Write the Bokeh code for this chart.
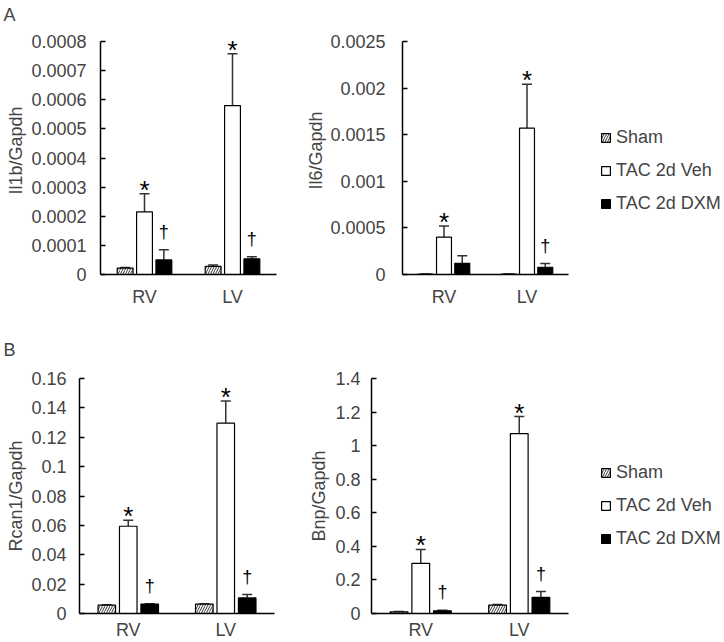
from bokeh.plotting import figure
from bokeh.layouts import column, row
from bokeh.models import (ColumnDataSource, Range1d, FixedTicker, Whisker, TeeHead,
                          LabelSet, Legend, LegendItem)
from bokeh.core.properties import value
from bokeh.embed import file_html
from bokeh.resources import INLINE

FONT = "Liberation Sans"

groups = ["RV", "LV"]
series_names = ["Sham", "TAC 2d Veh", "TAC 2d DXM"]

# Il1b/Gapdh
il1b_sham = [0.000022, 0.000028]
il1b_sham_err = [0.000002, 0.000005]
il1b_veh = [0.000215, 0.00058]
il1b_veh_err = [0.000062, 0.000178]
il1b_dxm = [0.00005, 0.000054]
il1b_dxm_err = [0.000035, 0.000007]
il1b_veh_sig = ["*", "*"]
il1b_dxm_sig = ["†", "†"]
il1b_ticks = ["0", "0.0001", "0.0002", "0.0003", "0.0004", "0.0005", "0.0006", "0.0007", "0.0008"]

# Il6/Gapdh
il6_sham = [0.000005, 0.000004]
il6_sham_err = [0.000001, 0.000001]
il6_veh = [0.0004, 0.00157]
il6_veh_err = [0.00012, 0.00047]
il6_dxm = [0.00012, 0.000078]
il6_dxm_err = [0.00008, 0.00004]
il6_veh_sig = ["*", "*"]
il6_dxm_sig = ["", "†"]
il6_ticks = ["0", "0.0005", "0.001", "0.0015", "0.002", "0.0025"]

# Rcan1/Gapdh
rcan1_sham = [0.0057, 0.0064]
rcan1_sham_err = [0.0003, 0.0003]
rcan1_veh = [0.0594, 0.1296]
rcan1_veh_err = [0.0041, 0.0151]
rcan1_dxm = [0.0064, 0.0106]
rcan1_dxm_err = [0.0003, 0.0023]
rcan1_veh_sig = ["*", "*"]
rcan1_dxm_sig = ["†", "†"]
rcan1_ticks = ["0", "0.02", "0.04", "0.06", "0.08", "0.1", "0.12", "0.14", "0.16"]

# Bnp/Gapdh
bnp_sham = [0.01, 0.05]
bnp_sham_err = [0.002, 0.003]
bnp_veh = [0.299, 1.072]
bnp_veh_err = [0.083, 0.101]
bnp_dxm = [0.016, 0.096]
bnp_dxm_err = [0.004, 0.035]
bnp_veh_sig = ["*", "*"]
bnp_dxm_sig = ["†", "†"]
bnp_ticks = ["0", "0.2", "0.4", "0.6", "0.8", "1", "1.2", "1.4"]

BAR_W = 0.18
OFFSETS = [-0.22, 0.0, 0.22]
STYLES = [
    dict(fill_color="white", hatch_pattern="/", hatch_color="black", hatch_scale=5, hatch_weight=0.8),
    dict(fill_color="white"),
    dict(fill_color="black"),
]
SIG_STYLE = {"*": dict(size="26px", yoff=-5), "†": dict(size="18px", yoff=12)}
ROW1_HEADROOM = 248 / 233


def make_panel(width, height, borders, ticks, ylabel, series, sigs, tick_standoff, label_standoff,
               x_standoff, y_headroom=1.0):
    left, right, top, bottom = borders
    tick_vals = [float(t) for t in ticks]
    centers = [i + 0.5 for i in range(len(groups))]
    p = figure(width=width, height=height, x_range=Range1d(0, len(groups)),
               y_range=Range1d(tick_vals[0], tick_vals[-1] * y_headroom),
               output_backend="svg", toolbar_location=None,
               min_border_left=left, min_border_right=right,
               min_border_top=top, min_border_bottom=bottom)
    p.outline_line_color = None
    p.grid.visible = False
    p.background_fill_color = "white"

    sources = []
    for k, ((means, errs), style) in enumerate(zip(series, STYLES)):
        xs = [c + OFFSETS[k] for c in centers]
        caps = [m + e for m, e in zip(means, errs)]
        src = ColumnDataSource(dict(x=xs, top=means, cap=caps))
        sources.append(src)
        p.vbar(x="x", top="top", bottom=0, width=BAR_W, source=src,
               line_color="black", line_width=1.2, **style)
        p.add_layout(Whisker(source=src, base="x", lower="top", upper="cap",
                             dimension="height", line_color="#333333", line_width=1.5,
                             lower_head=None,
                             upper_head=TeeHead(size=10, line_color="#333333", line_width=1.5)))
        if k > 0:
            marks = sigs[k - 1]
            for sym, st in SIG_STYLE.items():
                sel = [i for i, s in enumerate(marks) if s == sym]
                if not sel:
                    continue
                lsrc = ColumnDataSource(dict(x=[xs[i] for i in sel], y=[caps[i] for i in sel],
                                             t=[sym for _ in sel]))
                p.add_layout(LabelSet(x="x", y="y", text="t", source=lsrc,
                                      text_align="center", text_baseline="alphabetic",
                                      y_offset=st["yoff"], text_font=value(FONT),
                                      text_font_size=st["size"], text_color="black"))

    ya = p.yaxis[0]
    ya.ticker = FixedTicker(ticks=tick_vals)
    ya.bounds = (tick_vals[0], tick_vals[-1])
    ya.major_label_overrides = {v: t for v, t in zip(tick_vals, ticks)}
    ya.major_tick_in = 5
    ya.major_tick_out = 0
    ya.minor_tick_in = 0
    ya.minor_tick_out = 0
    ya.axis_line_width = 1.5
    ya.major_tick_line_width = 1.5
    ya.major_label_text_font = FONT
    ya.major_label_text_font_size = "18px"
    ya.major_label_standoff = tick_standoff
    ya.axis_label = ylabel
    ya.axis_label_text_font = FONT
    ya.axis_label_text_font_size = "18px"
    ya.axis_label_text_font_style = "normal"
    ya.axis_label_standoff = label_standoff

    xa = p.xaxis[0]
    xa.ticker = FixedTicker(ticks=centers)
    xa.major_label_overrides = {c: g for c, g in zip(centers, groups)}
    xa.major_tick_in = 0
    xa.major_tick_out = 0
    xa.minor_tick_in = 0
    xa.minor_tick_out = 0
    xa.axis_line_width = 1.5
    xa.major_label_text_font = FONT
    xa.major_label_text_font_size = "18px"
    xa.major_label_standoff = x_standoff
    return p, sources


def legend_panel(width, height, top, bottom, loc, sources):
    p = figure(width=width, height=height, x_range=Range1d(0, 1), y_range=Range1d(0, 1),
               output_backend="svg", toolbar_location=None,
               x_axis_location=None, y_axis_location=None,
               min_border_left=0, min_border_right=0, min_border_top=top, min_border_bottom=bottom)
    p.outline_line_color = None
    p.grid.visible = False
    rs = [p.vbar(x="x", top="top", bottom=0, width=BAR_W, source=src, visible=False,
                 line_color="black", line_width=1.2, **style)
          for src, style in zip(sources, STYLES)]
    leg = Legend(items=[LegendItem(label=n, renderers=[r], index=0) for n, r in zip(series_names, rs)],
                 location=loc, orientation="vertical",
                 label_text_font=FONT, label_text_font_size="18px",
                 glyph_width=11, glyph_height=11, label_standoff=5, label_height=20,
                 spacing=12, padding=0, margin=0,
                 border_line_color=None, background_fill_alpha=0)
    p.add_layout(leg)
    return p


def set_letter(p, letter, offset, standoff):
    p.title.text = letter
    p.title.align = "left"
    p.title.vertical_align = "top"
    p.title.offset = offset
    p.title.standoff = standoff
    p.title.text_font = FONT
    p.title.text_font_size = "18px"
    p.title.text_font_style = "normal"


p1, _ = make_panel(300, 321, (100, 24, 26, 47), il1b_ticks, "Il1b/Gapdh",
                   [(il1b_sham, il1b_sham_err), (il1b_veh, il1b_veh_err), (il1b_dxm, il1b_dxm_err)],
                   [il1b_veh_sig, il1b_dxm_sig], 14, 2, 12, y_headroom=ROW1_HEADROOM)
p2, s2 = make_panel(280, 321, (102, 12, 26, 47), il6_ticks, "Il6/Gapdh",
                    [(il6_sham, il6_sham_err), (il6_veh, il6_veh_err), (il6_dxm, il6_dxm_err)],
                    [il6_veh_sig, il6_dxm_sig], 17, 1, 12, y_headroom=ROW1_HEADROOM)
l1 = legend_panel(144, 321, 26, 47, (20, 60), s2)
p3, _ = make_panel(300, 321, (79, 26, 57, 29), rcan1_ticks, "Rcan1/Gapdh",
                   [(rcan1_sham, rcan1_sham_err), (rcan1_veh, rcan1_veh_err), (rcan1_dxm, rcan1_dxm_err)],
                   [rcan1_veh_sig, rcan1_dxm_sig], 13, 2, 6)
p4, s4 = make_panel(280, 321, (71, 12, 57, 29), bnp_ticks, "Bnp/Gapdh",
                    [(bnp_sham, bnp_sham_err), (bnp_veh, bnp_veh_err), (bnp_dxm, bnp_dxm_err)],
                    [bnp_veh_sig, bnp_dxm_sig], 11, 3, 6)
l2 = legend_panel(144, 321, 57, 29, (20, 64), s4)

set_letter(p1, "A", -97, 0)
set_letter(p3, "B", -76, 34)

layout = column(row(p1, p2, l1), row(p3, p4, l2))

open("out.html", "w").write(file_html(layout, INLINE))
